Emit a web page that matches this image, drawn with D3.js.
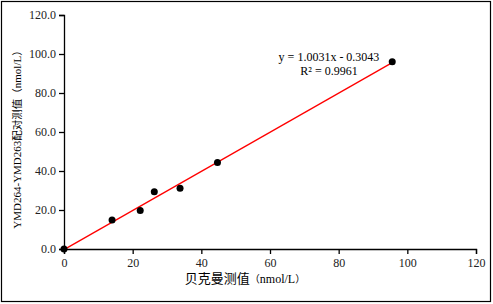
<!DOCTYPE html>
<html>
<head>
<meta charset="utf-8">
<script src="https://cdn.jsdelivr.net/npm/d3@7"></script>
<style>
  body { margin: 0; background: #fff; }
</style>
</head>
<body>
<svg id="chart" width="493" height="304"></svg>
<script>
var xVals = [0, 14.0, 22.2, 26.3, 33.8, 44.7, 95.6];
var yVals = [0, 14.9, 19.8, 29.4, 31.1, 44.3, 96.0];
var xTicks = [0, 20, 40, 60, 80, 100, 120];
var yTicks = [0, 20, 40, 60, 80, 100, 120];
var slope = 1.0031, intercept = -0.3043;
var eqLines = ["y = 1.0031x - 0.3043", "R² = 0.9961"];
// title pieces: [text, kind]  c = CJK, p = bracket, l = latin
var xTitle = [["贝克曼测值", "c"], ["（", "p"], ["nmol/L", "l"], ["）", "p"]];
var yTitle = [["YMD264-YMD263", "l"], ["配对测值", "c"], ["（", "p"], ["nmol/L", "l"], ["）", "p"]];

var serif = "Liberation Serif";
var cjk = "Noto Sans CJK SC";

var svg = d3.select("#chart");

svg.append("rect")
    .attr("x", 1.5).attr("y", 1.5)
    .attr("width", 489).attr("height", 300)
    .attr("fill", "#fff")
    .attr("stroke", "#000")
    .attr("stroke-width", 1.2);

var xScale = d3.scaleLinear().domain([0, 120]).range([64, 476]);
var yScale = d3.scaleLinear().domain([0, 120]).range([249, 15]);

var xAxis = d3.axisBottom(xScale)
              .tickValues(xTicks)
              .tickSize(5)
              .tickPadding(4)
              .tickFormat(d3.format("d"));
var yAxis = d3.axisLeft(yScale)
              .tickValues(yTicks)
              .tickSize(5)
              .tickPadding(3)
              .tickFormat(d3.format(".1f"));

svg.append("g")
    .attr("transform", "translate(0," + yScale(0) + ")")
    .call(xAxis);
svg.append("g")
    .attr("transform", "translate(" + xScale(0) + ",0)")
    .call(yAxis);

svg.selectAll(".domain").attr("stroke", "#000").attr("stroke-width", 1.3);
svg.selectAll(".tick line").attr("stroke", "#000").attr("stroke-width", 1.3);
svg.selectAll(".tick text")
    .attr("fill", "#222")
    .attr("font-family", serif)
    .attr("font-size", 12);

// trend line
var x0 = d3.min(xVals), x1 = d3.max(xVals);
svg.append("line")
    .attr("x1", xScale(x0)).attr("y1", yScale(slope * x0 + intercept))
    .attr("x2", xScale(x1)).attr("y2", yScale(slope * x1 + intercept))
    .attr("stroke", "#ff0000")
    .attr("stroke-width", 1.3);

// points
svg.selectAll(".pt")
    .data(xVals.map((x, i) => ({ x: x, y: yVals[i] })))
    .enter()
    .append("circle")
      .classed("pt", true)
      .attr("cx", d => xScale(d.x))
      .attr("cy", d => yScale(d.y))
      .attr("r", 3.5)
      .attr("fill", "#000");

// equation
svg.selectAll(".eq")
    .data(eqLines)
    .enter()
    .append("text")
      .classed("eq", true)
      .attr("x", 329)
      .attr("y", (d, i) => 61 + i * 14)
      .attr("text-anchor", "middle")
      .attr("font-family", serif)
      .attr("font-size", 12)
      .attr("fill", "#000")
      .text(d => d);

function addTitle(sel, parts, sizes) {
  sel.selectAll("tspan")
     .data(parts)
     .enter()
     .append("tspan")
       .attr("font-family", d => d[1] === "l" ? serif : cjk)
       .attr("font-size", d => sizes[d[1]])
       .text(d => d[0]);
}

// axis titles
svg.append("text")
    .attr("x", 245)
    .attr("y", 283)
    .attr("text-anchor", "middle")
    .attr("fill", "#000")
    .call(addTitle, xTitle, { c: 13, p: 10, l: 12 });

svg.append("text")
    .attr("transform", "translate(21,137) rotate(-90)")
    .attr("text-anchor", "middle")
    .attr("fill", "#000")
    .call(addTitle, yTitle, { c: 10.5, p: 10.5, l: 11 });
</script>
</body>
</html>
